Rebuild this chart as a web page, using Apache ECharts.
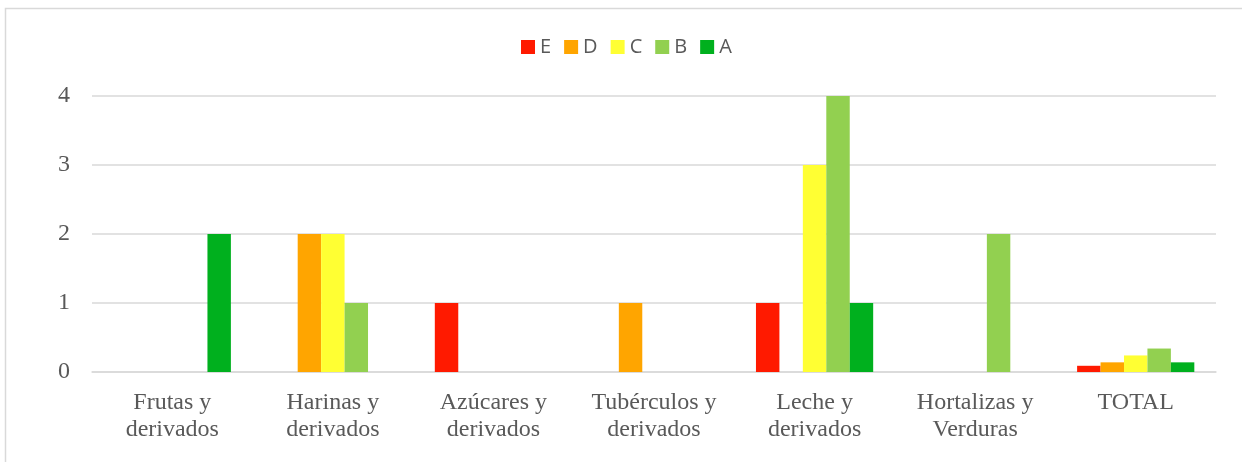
<!DOCTYPE html>
<html>
<head>
<meta charset="utf-8">
<script src="https://cdn.jsdelivr.net/npm/echarts@6/dist/echarts.min.js"></script>
<style>
  html, body { margin: 0; padding: 0; background: #fff; }
  #chart { width: 1242px; height: 462px; }
</style>
</head>
<body>
<div id="chart"></div>
<script>
// Food groups on the category axis
const categories = [
  'Frutas y\nderivados',
  'Harinas y\nderivados',
  'Azúcares y\nderivados',
  'Tubérculos y\nderivados',
  'Leche y\nderivados',
  'Hortalizas y\nVerduras',
  'TOTAL'
];

// Counts per rating, one array per series
const seriesNames = ['E', 'D', 'C', 'B', 'A'];
const valuesE = [0, 0, 1, 0, 1, 0, 0.09];
const valuesD = [0, 2, 0, 1, 0, 0, 0.14];
const valuesC = [0, 2, 0, 0, 3, 0, 0.24];
const valuesB = [0, 1, 0, 0, 4, 2, 0.34];
const valuesA = [2, 0, 0, 0, 1, 0, 0.14];
const yTicks = [0, 1, 2, 3, 4];

const colors = ['#FF1A00', '#FFA500', '#FFFF33', '#92D050', '#00B01E'];
const allValues = [valuesE, valuesD, valuesC, valuesB, valuesA];

const chart = echarts.init(document.getElementById('chart'));

chart.setOption({
  animation: false,
  backgroundColor: '#ffffff',
  graphic: [{
    type: 'rect',
    shape: { x: 5.5, y: 8.5, width: 1260, height: 470 },
    style: { fill: 'none', stroke: '#d9d9d9', lineWidth: 1.5 },
    silent: true
  }],
  legend: {
    data: seriesNames,
    top: 37,
    left: 521,
    padding: 0,
    itemWidth: 14,
    itemHeight: 14,
    itemGap: 13,
    icon: 'rect',
    textStyle: { fontFamily: 'Open Sans', fontSize: 20, color: '#595959' }
  },
  grid: { left: 92, right: 26, top: 96, bottom: 90, containLabel: false },
  xAxis: {
    type: 'category',
    data: categories,
    axisLine: { lineStyle: { color: '#d9d9d9', width: 1.5 } },
    axisTick: { show: false },
    axisLabel: {
      fontFamily: 'Liberation Serif',
      fontSize: 24,
      color: '#595959',
      lineHeight: 27,
      margin: 17,
      interval: 0
    }
  },
  yAxis: {
    type: 'value',
    min: yTicks[0],
    max: yTicks[yTicks.length - 1],
    interval: 1,
    axisLine: { show: false },
    axisTick: { show: false },
    splitLine: { lineStyle: { color: '#d9d9d9', width: 1.5 } },
    axisLabel: {
      fontFamily: 'Liberation Serif',
      fontSize: 24,
      color: '#595959',
      margin: 22
    }
  },
  series: seriesNames.map((name, i) => ({
    name: name,
    type: 'bar',
    data: allValues[i],
    barGap: '0%',
    barCategoryGap: '27%',
    itemStyle: { color: colors[i] }
  }))
});
</script>
</body>
</html>
